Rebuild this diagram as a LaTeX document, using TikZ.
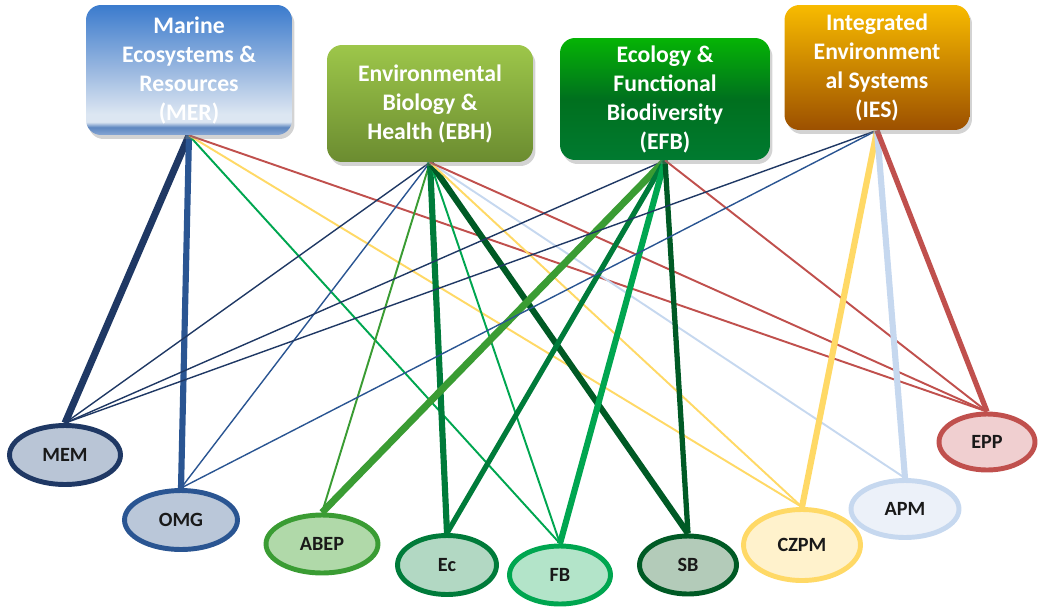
\documentclass[tikz,border=0pt]{standalone}
\usepackage{fontspec}
\setmainfont{Carlito}
\usetikzlibrary{shapes.geometric, shadows, backgrounds}

\definecolor{merA}{HTML}{3B7BCD}
\definecolor{merB}{HTML}{9AB8E0}
\definecolor{merC}{HTML}{DCE6F2}
\definecolor{merD}{HTML}{5E87C0}
\definecolor{merE}{HTML}{86A6D4}
\definecolor{ebhtop}{HTML}{9DC64A}
\definecolor{ebhbot}{HTML}{6B8C30}
\definecolor{efbtop}{HTML}{05B405}
\definecolor{efbmid}{HTML}{00701E}
\definecolor{efbbot}{HTML}{007A30}
\definecolor{iestop}{HTML}{F8BB00}
\definecolor{iesbot}{HTML}{9C5000}
\definecolor{memline}{HTML}{1F3864}
\definecolor{memfill}{HTML}{B9C5D6}
\definecolor{omgline}{HTML}{2A5592}
\definecolor{omgfill}{HTML}{BAC7D9}
\definecolor{abepline}{HTML}{3A9C33}
\definecolor{abepfill}{HTML}{B0D9A9}
\definecolor{ecline}{HTML}{007B3A}
\definecolor{ecfill}{HTML}{B2D8C3}
\definecolor{fbline}{HTML}{00A650}
\definecolor{fbfill}{HTML}{B3E4C9}
\definecolor{sbline}{HTML}{005A25}
\definecolor{sbfill}{HTML}{B3CBB9}
\definecolor{czpmline}{HTML}{FFD966}
\definecolor{czpmfill}{HTML}{FFF2CC}
\definecolor{apmline}{HTML}{C6D8EF}
\definecolor{apmfill}{HTML}{ECF1F9}
\definecolor{eppline}{HTML}{C0504D}
\definecolor{eppfill}{HTML}{F0CFD0}

\pgfdeclareverticalshading{merfill}{100bp}{color(0bp)=(merE); color(25bp)=(merE); color(28bp)=(merD); color(30bp)=(merC); color(33bp)=(merC); color(50bp)=(merB); color(75bp)=(merA); color(100bp)=(merA)}

\tikzset{area/.style={rectangle, rounded corners=0.3cm, text=white, align=center, font=\bfseries\fontsize{13.5}{16.5}\selectfont, drop shadow={opacity=0.35, shadow xshift=0.05cm, shadow yshift=-0.08cm}},
         unit/.style={ellipse, line width=2.8pt, inner sep=0pt, text=black!90, font=\bfseries\fontsize{11.5}{13}\selectfont},
         link/.style={line width=1.1pt},
         mainlink/.style={line width=3.5pt}}

\begin{document}
\begin{tikzpicture}[x=0.02cm, y=-0.02cm]
        \useasboundingbox (0,0) rectangle (1038,606);
        % research areas
        \node (mer)[area, shading=merfill, minimum width=4.12cm, minimum height=2.6cm] at (189,70) {Marine\\Ecosystems \&\\Resources\\(MER)};
        \node (ebh)[area, top color=ebhtop, bottom color=ebhbot, minimum width=4.12cm, minimum height=2.34cm] at (430,103.5) {Environmental\\Biology \&\\Health (EBH)};
        \node (efb)[area, top color=efbtop, bottom color=efbbot, middle color=efbmid, minimum width=4.2cm, minimum height=2.44cm] at (665,99) {Ecology \&\\Functional\\Biodiversity\\(EFB)};
        \node (ies)[area, top color=iestop, bottom color=iesbot, minimum width=3.7cm, minimum height=2.5cm] at (877,67.5) {Integrated\\Environment\\al Systems\\(IES)};
        % units
        \node (mem)[unit, draw=memline, fill=memfill, minimum width=2.22cm, minimum height=1.18cm] at (65,455) {MEM};
        \node (omg)[unit, draw=omgline, fill=omgfill, minimum width=2.26cm, minimum height=1.18cm] at (181,520) {OMG};
        \node (abep)[unit, draw=abepline, fill=abepfill, minimum width=2.24cm, minimum height=1.16cm] at (322,544) {ABEP};
        \node (ec)[unit, draw=ecline, fill=ecfill, minimum width=1.98cm, minimum height=1.18cm] at (447,565) {Ec};
        \node (fb)[unit, draw=fbline, fill=fbfill, minimum width=2.02cm, minimum height=1.16cm] at (560,575) {FB};
        \node (sb)[unit, draw=sbline, fill=sbfill, minimum width=1.94cm, minimum height=1.16cm] at (688,565) {SB};
        \node (czpm)[unit, draw=czpmline, fill=czpmfill, minimum width=2.34cm, minimum height=1.42cm] at (802,545) {CZPM};
        \node (apm)[unit, draw=apmline, fill=apmfill, minimum width=2.16cm, minimum height=1.14cm] at (905,509) {APM};
        \node (epp)[unit, draw=eppline, fill=eppfill, minimum width=1.92cm, minimum height=1.12cm] at (987,442) {EPP};
        % links
        \begin{scope}[on background layer]
        \draw [mainlink, memline, line width=4pt] (mer.south) -- (mem.north);
        \draw [mainlink, omgline] (mer.south) -- (omg.north);
        \draw [link, fbline] (mer.south) -- (fb.north);
        \draw [link, czpmline] (mer.south) -- (czpm.north);
        \draw [link, eppline] (mer.south) -- (epp.north);
        \draw [link, memline, line width=0.8pt] (ebh.south) -- (mem.north);
        \draw [link, omgline, line width=0.8pt] (ebh.south) -- (omg.north);
        \draw [link, abepline] (ebh.south) -- (abep.north);
        \draw [mainlink, ecline] (ebh.south) -- (ec.north);
        \draw [link, fbline] (ebh.south) -- (fb.north);
        \draw [mainlink, sbline] (ebh.south) -- (sb.north);
        \draw [link, apmline] (ebh.south) -- (apm.north);
        \draw [link, czpmline] (ebh.south) -- (czpm.north);
        \draw [link, eppline] (ebh.south) -- (epp.north);
        \draw [link, memline, line width=0.8pt] (efb.south) -- (mem.north);
        \draw [mainlink, abepline, line width=4pt] (efb.south) -- (abep.north);
        \draw [mainlink, ecline, line width=3pt] (efb.south) -- (ec.north);
        \draw [mainlink, fbline] (efb.south) -- (fb.north);
        \draw [mainlink, sbline, line width=3pt] (efb.south) -- (sb.north);
        \draw [link, eppline] (efb.south) -- (epp.north);
        \draw [link, memline, line width=0.8pt] (ies.south) -- (mem.north);
        \draw [link, omgline, line width=0.8pt] (ies.south) -- (omg.north);
        \draw [mainlink, czpmline] (ies.south) -- (czpm.north);
        \draw [mainlink, apmline] (ies.south) -- (apm.north);
        \draw [mainlink, eppline, line width=3pt] (ies.south) -- (epp.north);
        \end{scope}
\end{tikzpicture}
\end{document}
